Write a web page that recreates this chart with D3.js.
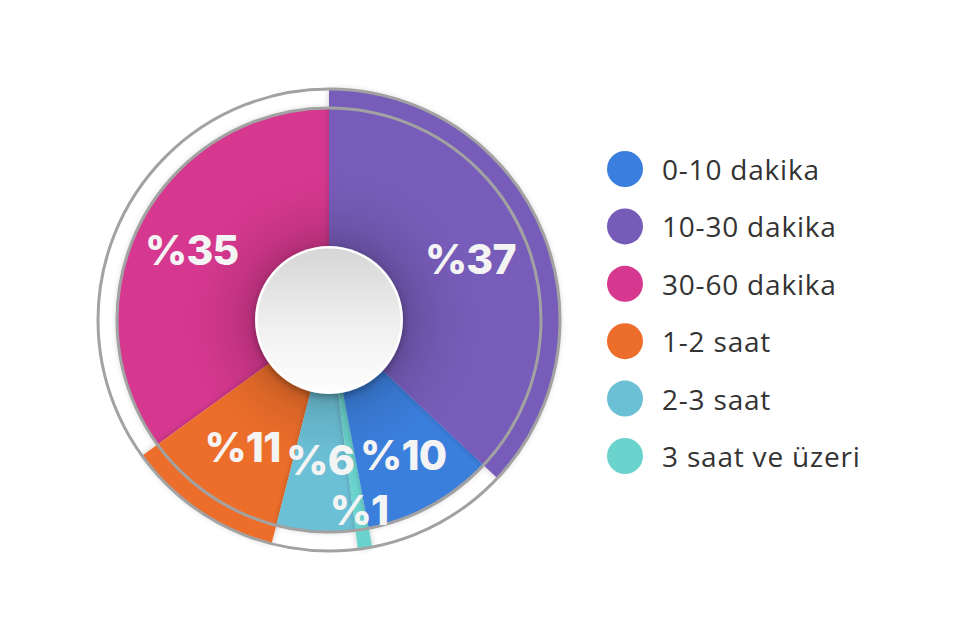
<!DOCTYPE html>
<html>
<head>
<meta charset="utf-8">
<script src="https://cdn.jsdelivr.net/npm/d3@7"></script>
<style>
  html, body { margin: 0; padding: 0; background: #ffffff; }
  svg { display: block; }
</style>
</head>
<body>
<svg id="chart" width="960" height="640"></svg>
<script>
// ---- data ----
const categories = ["0-10 dakika", "10-30 dakika", "30-60 dakika", "1-2 saat", "2-3 saat", "3 saat ve üzeri"];
const percents = [10, 37, 35, 11, 6, 1];
const sliceColors = ["#3a7fdd", "#775bb9", "#d6388f", "#ed6e2b", "#6cc0d6", "#6ad3cd"];
// clockwise order of slices starting at 12 o'clock
const clockwiseOrder = ["10-30 dakika", "0-10 dakika", "3 saat ve üzeri", "2-3 saat", "1-2 saat", "30-60 dakika"];

const rows = categories.map((c, i) => ({ cat: c, value: percents[i], color: sliceColors[i] }));

// ---- layout ----
const svg = d3.select("#chart");
const cx = 329, cy = 320;
const rOuter = 231, rInner = 212, rHub = 74;

const defs = svg.append("defs");

const sh = defs.append("filter").attr("id", "sliceShadow")
  .attr("x", "-20%").attr("y", "-20%").attr("width", "140%").attr("height", "140%");
sh.append("feDropShadow").attr("dx", 0).attr("dy", 0).attr("stdDeviation", 3)
  .attr("flood-color", "#000").attr("flood-opacity", 0.22);

const hubSh = defs.append("filter").attr("id", "hubShadow")
  .attr("x", "-30%").attr("y", "-30%").attr("width", "160%").attr("height", "160%");
hubSh.append("feDropShadow").attr("dx", 0).attr("dy", 3).attr("stdDeviation", 3.5)
  .attr("flood-color", "#000").attr("flood-opacity", 0.3);

const shade = defs.append("radialGradient").attr("id", "innerShade")
  .attr("gradientUnits", "userSpaceOnUse").attr("cx", 0).attr("cy", 0).attr("r", rOuter);
[[0, 0.22], [0.32, 0.18], [0.42, 0.08], [0.55, 0.02], [0.65, 0]].forEach(([o, a]) =>
  shade.append("stop").attr("offset", o).attr("stop-color", "#000").attr("stop-opacity", a));

const hubGrad = defs.append("linearGradient").attr("id", "hubGrad")
  .attr("x1", 0).attr("y1", 0).attr("x2", 0).attr("y2", 1);
[[0, "#d6d6d6"], [0.55, "#f0f0f0"], [1, "#fdfdfd"]].forEach(([o, c]) =>
  hubGrad.append("stop").attr("offset", o).attr("stop-color", c));

const pie = d3.pie()
  .value(d => d.value)
  .sort((a, b) => clockwiseOrder.indexOf(a.cat) - clockwiseOrder.indexOf(b.cat))
  .startAngle(0).endAngle(2 * Math.PI);

const arcsData = pie(rows);
const posOf = d => clockwiseOrder.indexOf(d.data.cat);
const outerR = d => (posOf(d) % 2 === 0 ? rOuter : rInner);

const arc = d3.arc().innerRadius(0).outerRadius(outerR);

const g = svg.append("g").attr("transform", `translate(${cx},${cy})`);

// draw in reverse clockwise order so each slice casts its shadow on the previous one
const drawOrder = arcsData.slice().sort((a, b) => posOf(b) - posOf(a));
g.append("g").selectAll("path").data(drawOrder).join("path")
  .attr("d", arc)
  .attr("fill", d => d.data.color)
  .attr("filter", "url(#sliceShadow)");

// darkening toward the hub
g.append("circle").attr("r", rOuter - 60).attr("fill", "url(#innerShade)");

// rings
[rInner, rOuter].forEach(r =>
  g.append("circle").attr("r", r).attr("fill", "none")
    .attr("stroke", "#a2a2a2").attr("stroke-width", 3));

// labels
const labelRadius = d => {
  const span = d.endAngle - d.startAngle;
  return span < 0.2 ? 192 : (span < 0.5 ? 140 : 154);
};
const labelArc = d3.arc().innerRadius(labelRadius).outerRadius(labelRadius);
g.append("g").selectAll("text").data(arcsData).join("text")
  .attr("transform", d => `translate(${labelArc.centroid(d)})`)
  .attr("text-anchor", "middle")
  .attr("dominant-baseline", "central")
  .attr("font-family", "Inter, 'Open Sans', sans-serif")
  .attr("font-weight", 800)
  .attr("font-size", 41)
  .attr("letter-spacing", -0.8)
  .attr("fill", "#f4f4f4")
  .text(d => "%" + d.data.value);

// hub
g.append("circle").attr("r", rHub).attr("fill", "#ffffff").attr("filter", "url(#hubShadow)");
g.append("circle").attr("r", rHub - 2.5).attr("fill", "url(#hubGrad)");

// legend
const ly = d3.scalePoint().domain(categories).range([169, 456]);
const legend = svg.append("g");
const item = legend.selectAll("g").data(rows).join("g")
  .attr("transform", d => `translate(625,${ly(d.cat)})`);
item.append("circle").attr("r", 18).attr("fill", d => d.color);
item.append("text")
  .attr("x", 37).attr("y", 11)
  .attr("font-family", "'Open Sans', sans-serif")
  .attr("font-size", 28)
  .attr("letter-spacing", 0.8)
  .attr("fill", "#333333")
  .text(d => d.cat);
</script>
</body>
</html>
